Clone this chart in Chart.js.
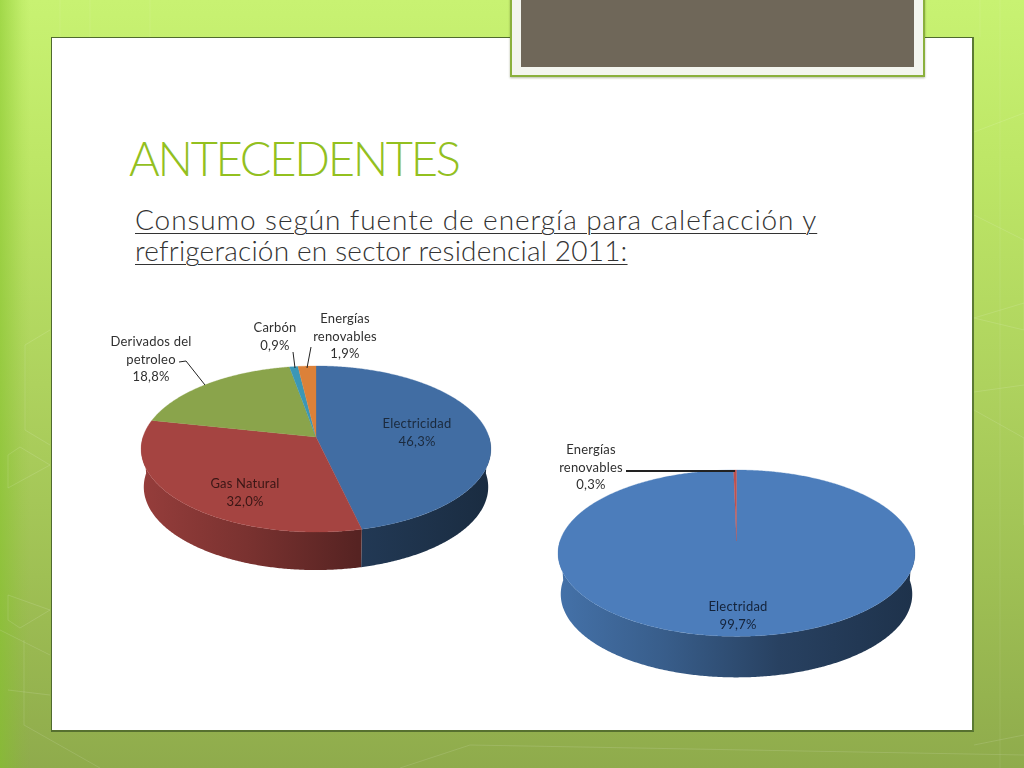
<!DOCTYPE html>
<html lang="es">
<head>
<meta charset="utf-8">
<title>Antecedentes</title>
<script src="https://cdn.jsdelivr.net/npm/chart.js@4"></script>
<style>
  html, body { margin: 0; padding: 0; }
  body { width: 1024px; height: 768px; position: relative; overflow: hidden;
    background:
      linear-gradient(90deg, rgba(130,195,40,.55) 0, rgba(130,195,40,.1) 22px, transparent 30px),
      linear-gradient(180deg, #c8f272 0, #bde666 22%, #aed25e 50%, #9fc054 75%, #8fab4c 100%); }
  #fondo { position: absolute; left: 0; top: 0; }
  #panel { position: absolute; left: 51px; top: 37px; width: 920px; height: 692px; background: #fff;
    border: 1px solid #4f6a2e; border-right: 2px solid #5b7a34; border-bottom: 2px solid #56702f; }
  #marco { position: absolute; left: 510px; top: -4px; width: 411px; height: 79px; background: #f3f5ef;
    border: 1px solid #8ab03c; border-width: 0 2px 2px 2px; box-shadow: 0 1px 2px rgba(70,90,30,.4); }
  #marco div { position: absolute; left: 9px; top: 4px; width: 393px; height: 67px; background: #6f6759; }
  h1 { position: absolute; left: 129px; top: 127px; margin: 0; font: 300 47px/62px Lato, sans-serif; color: #93c01f;
    white-space: nowrap; letter-spacing: -2.3px; }
  #sub { position: absolute; left: 135px; top: 204px; margin: 0; font: 300 28px/31px Lato, sans-serif; color: #333;
    text-decoration: underline; text-decoration-thickness: 1px; text-underline-offset: 3px; white-space: nowrap; }
  #sub .l1 { letter-spacing: .92px; }
  #sub .l2 { letter-spacing: .2px; }
  canvas.pie { position: absolute; }
</style>
</head>
<body>
<svg id="fondo" width="1024" height="768" fill="none" stroke="#fff" stroke-opacity=".12">
  <path d="M8 455 L20 447 L50 465 L8 488 Z"/>
  <path d="M8 595 L50 610 L20 628 L8 620 Z"/>
  <path d="M25 345 L50 330 M25 345 V430 L50 445"/>
  <path d="M0 630 L50 655 M24 640 V725 L100 768 M8 690 L50 695"/>
  <path d="M974 132 L1024 113 M974 215 L1024 240 V330 L974 318 M974 318 L1024 303 M974 392 L1024 385 M974 410 L1024 438 V525"/>
  <path d="M974 745 L1024 735 M400 768 L470 745 L1024 755"/>
  <path d="M60 0 V37 M90 0 V37 M150 0 V37 M980 0 V37 M1000 0 V768" stroke-opacity=".08"/>
</svg>
<div id="panel"></div>
<div id="marco"><div></div></div>
<h1>ANTECEDENTES</h1>
<p id="sub"><span class="l1">Consumo según fuente de energía para calefacción y</span><br><span class="l2">refrigeración en sector residencial 2011:</span></p>
<canvas id="pieFuentes" class="pie" width="400" height="280" style="left:100px;top:300px"></canvas>
<canvas id="pieElectr" class="pie" width="390" height="260" style="left:540px;top:430px"></canvas>

<script>
// datos
const fuentes = ['Electricidad', 'Gas Natural', 'Derivados del petroleo', 'Carbón', 'Energías renovables'];
const consumoFuentes = [46.3, 32.0, 18.8, 0.9, 1.9];
const coloresFuentes = ['#416da3', '#a54441', '#8aa44b', '#3b97b6', '#dc8139'];

const fuentesElectr = ['Electridad', 'Energías renovables'];
const consumoElectr = [99.7, 0.3];
const coloresElectr = ['#4c7dbb', '#c0504d'];

// mezcla el color de cara con negro para la pared lateral
function oscurecer(hex, f) {
    const n = parseInt(hex.slice(1), 16);
    return `rgb(${Math.round((n >> 16) * f)},${Math.round(((n >> 8) & 255) * f)},${Math.round((n & 255) * f)})`;
}

function partirTexto(ctx, texto, ancho) {
    const lineas = [];
    let actual = '';
    texto.split(' ').forEach(p => {
        const prueba = actual ? actual + ' ' + p : p;
        if (actual && ctx.measureText(prueba).width > ancho) {
            lineas.push(actual);
            actual = p;
        } else {
            actual = prueba;
        }
    });
    lineas.push(actual);
    return lineas;
}

// dibuja las porciones en perspectiva a partir de los angulos que calcula Chart.js
const pie3d = {
    id: 'pie3d',
    beforeDatasetsDraw(chart, args, opts) {
        const ctx = chart.ctx;
        const arcs = chart.getDatasetMeta(0).data;
        const punto = (t, bajar) => {
            const u = Math.cos(t), v = Math.sin(t), d = 1 + opts.k * v;
            const x = opts.rx * u / d * (bajar ? 0.985 : 1);
            return [opts.cx + x, opts.hub + opts.ry * v / d + (bajar ? opts.depth : 0)];
        };
        const paso = Math.PI / 180 / 2;

        // paredes: solo la mitad delantera
        arcs.forEach(arc => {
            const ini = Math.max(arc.startAngle, -0.02), fin = Math.min(arc.endAngle, Math.PI + 0.02);
            if (fin <= ini) return;
            const base = arc.options.backgroundColor;
            const g = ctx.createLinearGradient(opts.cx - opts.rx, 0, opts.cx + opts.rx, 0);
            g.addColorStop(0, oscurecer(base, 0.9));
            g.addColorStop(0.3, oscurecer(base, 0.74));
            g.addColorStop(0.62, oscurecer(base, 0.52));
            g.addColorStop(1, oscurecer(base, 0.4));
            ctx.beginPath();
            for (let t = ini; t < fin; t += paso) ctx.lineTo(...punto(t, false));
            ctx.lineTo(...punto(fin, false));
            for (let t = fin; t > ini; t -= paso) ctx.lineTo(...punto(t, true));
            ctx.lineTo(...punto(ini, true));
            ctx.closePath();
            ctx.fillStyle = g;
            ctx.fill();
        });

        // cara superior
        arcs.forEach(arc => {
            ctx.beginPath();
            ctx.moveTo(opts.cx, opts.hub);
            for (let t = arc.startAngle; t < arc.endAngle; t += paso) ctx.lineTo(...punto(t, false));
            ctx.lineTo(...punto(arc.endAngle, false));
            ctx.closePath();
            ctx.fillStyle = arc.options.backgroundColor;
            ctx.strokeStyle = arc.options.backgroundColor;
            ctx.lineWidth = 0.3;
            ctx.fill();
            ctx.stroke();
        });
        return false;
    },
    afterDraw(chart, args, opts) {
        const ctx = chart.ctx;
        ctx.save();
        opts.guias.forEach(g => {
            ctx.beginPath();
            g.puntos.forEach(p => ctx.lineTo(p[0], p[1]));
            ctx.lineWidth = g.grosor;
            ctx.strokeStyle = '#222';
            ctx.stroke();
        });
        ctx.font = opts.fuente;
        ctx.textAlign = 'center';
        ctx.textBaseline = 'alphabetic';
        try { ctx.letterSpacing = opts.espaciado; } catch (e) {}
        const valores = chart.data.datasets[0].data;
        chart.data.labels.forEach((nombre, i) => {
            const e = opts.etiquetas[i];
            if (!e) return;
            const lineas = partirTexto(ctx, nombre, e.ancho);
            lineas.push(valores[i].toFixed(1).replace('.', ',') + '%');
            ctx.fillStyle = e.color || '#303030';
            lineas.forEach((l, n) => ctx.fillText(l, e.x, e.y + n * opts.interlinea));
        });
        ctx.restore();
    }
};
Chart.register(pie3d);

function crearPie(id, labels, valores, colores, geo) {
    return new Chart(document.getElementById(id), {
        type: 'pie',
        data: { labels: labels, datasets: [{ data: valores, backgroundColor: colores, borderWidth: 0 }] },
        options: {
            responsive: false,
            animation: false,
            plugins: { legend: { display: false }, tooltip: { enabled: false }, pie3d: geo }
        }
    });
}

crearPie('pieFuentes', fuentes, consumoFuentes, coloresFuentes, {
    cx: 216, hub: 137, rx: 173, ry: 81.3, k: -0.1446, depth: 38,
    fuente: '13px Lato, sans-serif', espaciado: '0.2px', interlinea: 17.5,
    etiquetas: [
        { x: 317, y: 128, ancho: 100, color: '#1b2a3d' },
        { x: 145, y: 188, ancho: 100, color: '#3a1615' },
        { x: 51, y: 46, ancho: 90 },
        { x: 175, y: 32, ancho: 70 },
        { x: 245, y: 23, ancho: 70 }
    ],
    guias: [
        { puntos: [[79, 62], [86, 61], [105, 85]], grosor: 1 },
        { puntos: [[193, 52], [195, 68]], grosor: 1 },
        { puntos: [[211, 47], [207, 68]], grosor: 1 }
    ]
});

crearPie('pieElectr', fuentesElectr, consumoElectr, coloresElectr, {
    cx: 196.5, hub: 111, rx: 176.5, ry: 81.4, k: -0.1466, depth: 41,
    fuente: '13px Lato, sans-serif', espaciado: '0.2px', interlinea: 17.5,
    etiquetas: [
        { x: 198, y: 181, ancho: 100, color: '#14233a' },
        { x: 51, y: 24, ancho: 70 }
    ],
    guias: [
        { puntos: [[86, 41], [195, 41]], grosor: 2 }
    ]
});
</script>
</body>
</html>
